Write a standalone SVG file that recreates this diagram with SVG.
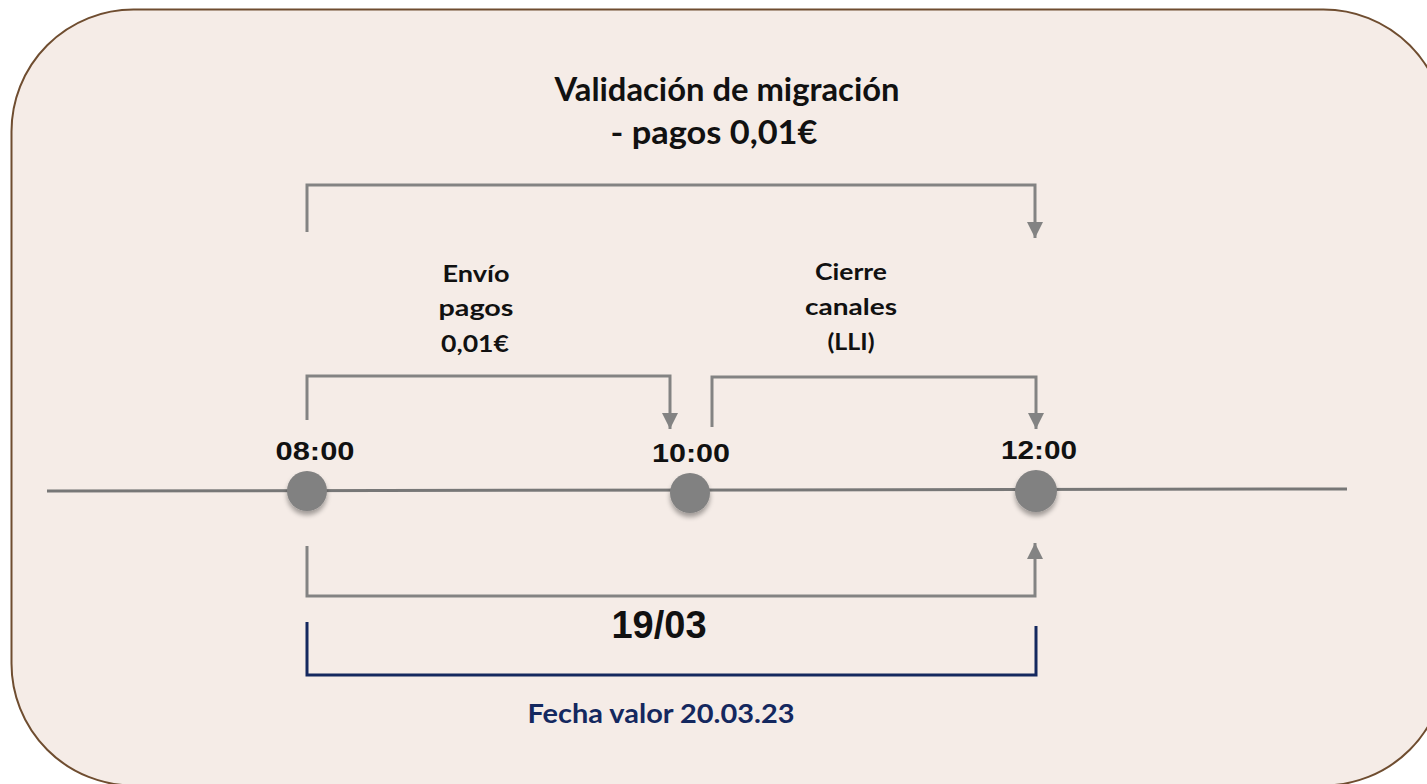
<svg xmlns="http://www.w3.org/2000/svg" width="1427" height="784" viewBox="0 0 1427 784">
<defs>
<style>
.cal{font-family:Lato,"Open Sans","Liberation Sans",sans-serif;font-weight:bold;fill:#111;text-anchor:middle}
.hel{font-family:"Liberation Sans",Arial,sans-serif;font-weight:bold;fill:#111;text-anchor:middle}
.br{fill:none;stroke:#838383;stroke-width:3}
.dot{fill:#818181;filter:url(#sh)}
</style>
<marker id="ah" markerWidth="16" markerHeight="16" refX="16" refY="8" orient="auto" markerUnits="userSpaceOnUse" viewBox="0 0 16 16">
<path d="M0,0 L16,8 L0,16 Z" fill="#838383"/>
</marker>
<filter id="sh" x="-50%" y="-50%" width="200%" height="220%">
<feGaussianBlur in="SourceAlpha" stdDeviation="2.5"/>
<feOffset dy="4"/>
<feComponentTransfer><feFuncA type="linear" slope="0.35"/></feComponentTransfer>
<feMerge><feMergeNode/><feMergeNode in="SourceGraphic"/></feMerge>
</filter>
</defs>
<rect x="0" y="0" width="1427" height="784" fill="#ffffff"/>
<g id="frame">
<rect x="11.5" y="9.5" width="1434" height="776" rx="122" ry="122" fill="#F5ECE7" stroke="#6F4D30" stroke-width="2"/>
</g>
<g id="title">
<text class="cal" x="727" y="101" font-size="32" textLength="345" lengthAdjust="spacingAndGlyphs">Validación de migración</text>
<text class="cal" x="714" y="144" font-size="32" textLength="207" lengthAdjust="spacingAndGlyphs">- pagos 0,01€</text>
</g>
<g id="connectors">
<line x1="47" y1="491" x2="1347" y2="489" stroke="#777777" stroke-width="3"/>
<path class="br" d="M307,232 V185 H1035 V238" marker-end="url(#ah)"/>
<path class="br" d="M307,420 V376 H670 V429" marker-end="url(#ah)"/>
<path class="br" d="M712,427 V377 H1036 V429" marker-end="url(#ah)"/>
<path class="br" d="M307,546 V596 H1035 V543" marker-end="url(#ah)"/>
<path d="M307,622 V675 H1036 V626" fill="none" stroke="#14285F" stroke-width="3"/>
</g>
<g id="envio">
<text class="cal" x="476" y="282" font-size="23" textLength="67" lengthAdjust="spacingAndGlyphs">Envío</text>
<text class="cal" x="476" y="316" font-size="23" textLength="75" lengthAdjust="spacingAndGlyphs">pagos</text>
<text class="cal" x="475" y="352" font-size="23" textLength="68" lengthAdjust="spacingAndGlyphs">0,01€</text>
</g>
<g id="cierre">
<text class="cal" x="851" y="280" font-size="23" textLength="72" lengthAdjust="spacingAndGlyphs">Cierre</text>
<text class="cal" x="851" y="315" font-size="23" textLength="92" lengthAdjust="spacingAndGlyphs">canales</text>
<text class="cal" x="851" y="350" font-size="23" textLength="47" lengthAdjust="spacingAndGlyphs">(LLI)</text>
</g>
<g id="t0800">
<circle class="dot" cx="307" cy="491" r="20"/>
<text class="hel" x="315" y="460" font-size="26" textLength="79" lengthAdjust="spacingAndGlyphs">08:00</text>
</g>
<g id="t1000">
<circle class="dot" cx="690" cy="493" r="20"/>
<text class="hel" x="691" y="462" font-size="26" textLength="78" lengthAdjust="spacingAndGlyphs">10:00</text>
</g>
<g id="t1200">
<circle class="dot" cx="1036" cy="491" r="21"/>
<text class="hel" x="1039" y="459" font-size="26" textLength="76" lengthAdjust="spacingAndGlyphs">12:00</text>
</g>
<g id="date">
<text class="hel" x="659" y="638" font-size="38">19/03</text>
</g>
<g id="fecha">
<text class="cal" x="661" y="723" font-size="26" textLength="267" lengthAdjust="spacingAndGlyphs" style="fill:#14285F">Fecha valor 20.03.23</text>
</g>
</svg>
